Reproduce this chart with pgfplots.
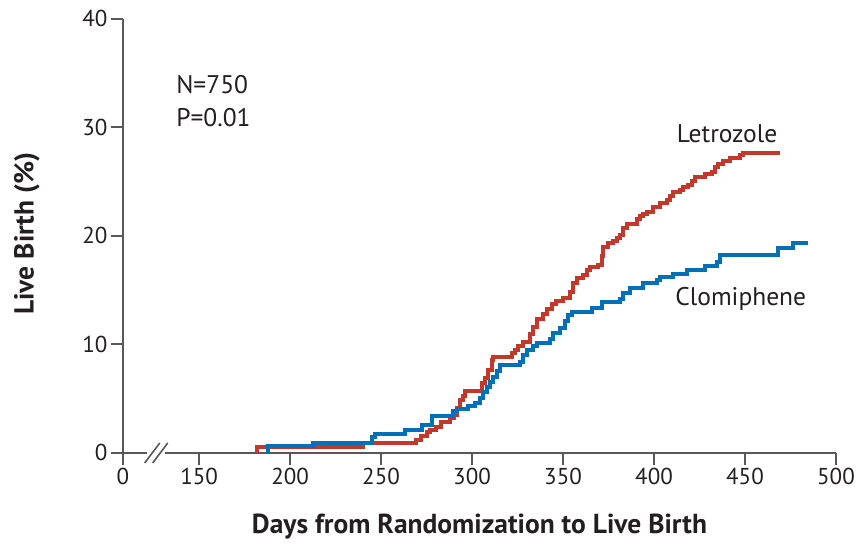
\documentclass[border=0pt]{standalone}
\usepackage{fontspec}
\setmainfont{PT Sans}
\usepackage{pgfplots}
\pgfplotsset{compat=1.18}

\definecolor{letro}{RGB}{194,56,42}
\definecolor{clomi}{RGB}{0,112,184}
\definecolor{axgray}{RGB}{88,88,88}
\definecolor{txt}{RGB}{35,31,32}

\begin{document}
\begin{tikzpicture}
\useasboundingbox (-123pt,-92.3pt) rectangle (736pt,452.7pt);
\begin{axis}[
    at={(0,0)}, anchor=south west,
    scale only axis,
    width=713pt, height=434pt,
    xmin=108.2, xmax=500,
    ymin=0, ymax=40,
    enlargelimits=false,
    clip=false,
    axis lines=left,
    axis line style={-, axgray, line width=2.2pt},
    tick align=outside,
    major tick length=12pt,
    tick style={axgray, line width=2.2pt},
    xtick={108.2,150,200,250,300,350,400,450,500},
    xticklabels={0,150,200,250,300,350,400,450,500},
    ytick={0,10,20,30,40},
    /pgf/number format/assume math mode=true,
    ticklabel style={font=\fontsize{23}{27}\selectfont, text=txt},
    xlabel={Days from Randomization to Live Birth},
    ylabel={Live Birth (\%)},
    label style={font=\fontsize{27.5}{32}\selectfont\bfseries, text=txt},
    xlabel style={at={(axis description cs:0.5,-0.186)}, anchor=base},
    ylabel style={at={(axis description cs:-0.135,0.505)}, anchor=center},
]

% Letrozole
\addplot[const plot, color=letro, line width=4pt] coordinates {
    (182,0)(182,0.5)(240,0.9)(269,1.2)(272,1.5)(275,1.9)(277,2.1)(280,2.4)
    (283,2.8)(288,3.2)(290,3.5)(291.5,4.1)(293.4,4.9)(295,5.2)(296.2,5.7)
    (305.3,6.4)(307,6.9)(309,7.6)(310.8,8.5)(311.7,8.8)(321.8,9.2)(323.6,9.5)
    (325.4,9.8)(328.2,10.2)(331.9,10.9)(333.7,11.6)(335.6,12.3)(339.2,12.8)
    (341,13.2)(344,13.7)(346,14.0)(350.2,14.3)(353.9,14.85)(355.7,15.6)
    (357.5,16.1)(361.2,16.4)(363,16.85)(364.8,17.1)(369.4,17.3)(371.2,18.1)
    (372.1,19.0)(374.9,19.3)(377.6,19.5)(379.5,19.8)(381.3,20.1)(383.1,20.7)
    (385,21.1)(390.5,21.5)(392.3,21.8)(394.1,22.0)(396,22.2)(399.6,22.6)
    (403.3,23.0)(407,23.3)(408.8,23.7)(410.6,24.0)(414.3,24.2)(416.1,24.5)
    (418.5,24.7)(420.7,25.0)(422.5,25.4)(428,25.7)(431.7,25.9)(433.5,26.3)
    (435.3,26.6)(438,26.85)(441.7,27.2)(447.2,27.4)(449.1,27.6)(469.2,27.6)
};

% Clomiphene
\addplot[const plot, color=clomi, line width=4pt] coordinates {
    (188,0)(188,0.6)(212.8,0.9)(244.9,1.45)(246.7,1.75)(263.2,2.1)(272.4,2.55)
    (277.9,3.4)(289.7,3.8)(291.5,4.0)(298,4.3)(301.6,4.6)(304.4,5.0)(306.2,5.6)
    (308.1,6.1)(309.9,6.5)(311.7,7.0)(313.6,7.5)(315.4,8.1)(326.4,8.4)
    (328.2,9.0)(330.1,9.5)(333.7,9.8)(335.6,10.1)(342.9,10.5)(344.7,11.0)
    (348.4,11.5)(351.1,12.1)(352.9,12.7)(354.8,13.0)(365.8,13.3)(371.2,13.9)
    (381.3,14.2)(383.1,14.7)(386.8,15.2)(394.1,15.6)(401.5,15.9)(403.3,16.2)
    (410.6,16.5)(418,16.8)(428,17.2)(434.5,17.6)(436.3,18.2)(468.3,18.85)
    (476.6,19.3)(484.8,19.3)
};

% axis break
\draw[white, line width=4pt] (axis cs:121.5,0) -- (axis cs:131.5,0);
\draw[axgray, line width=1.6pt] (axis cs:120.1,-0.95) -- (axis cs:128.4,0.9);
\draw[axgray, line width=1.6pt] (axis cs:124.5,-0.95) -- (axis cs:132.8,0.9);

\node[anchor=base west, text=txt, font=\fontsize{25.5}{30}\selectfont, inner sep=0pt]
    at (axis cs:137.4,33.1) {N=750};
\node[anchor=base west, text=txt, font=\fontsize{25.5}{30}\selectfont, inner sep=0pt]
    at (axis cs:137.4,30.1) {P=0.01};
\node[anchor=base west, text=txt, font=\fontsize{25.5}{30}\selectfont, inner sep=0pt]
    at (axis cs:412.5,28.6) {Letrozole};
\node[anchor=base west, text=txt, font=\fontsize{25.5}{30}\selectfont, inner sep=0pt]
    at (axis cs:411.6,13.6) {Clomiphene};

\end{axis}
\end{tikzpicture}
\end{document}
